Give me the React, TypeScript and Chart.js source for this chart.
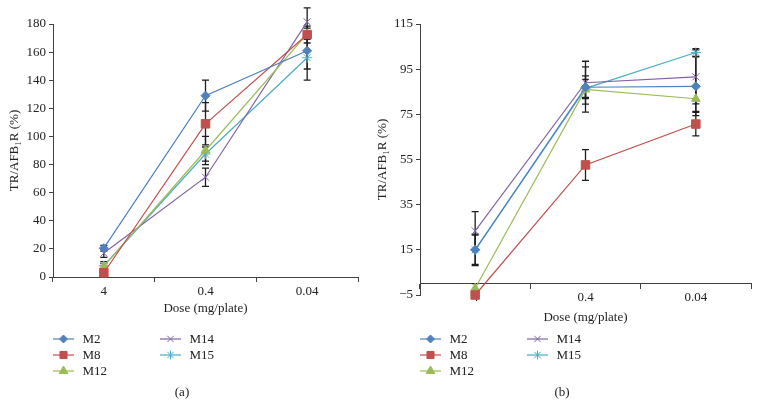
import React, { useEffect, useRef } from 'react';
import { Chart, registerables } from 'chart.js';

Chart.register(...registerables);

// ---------- data ----------
const categories = ['4', '0.4', '0.04'];
const seriesNames = ['M2', 'M8', 'M12', 'M14', 'M15'];

// panel (a)
const m2A = [20.5, 129, 161];
const m8A = [3, 109, 172.5];
const m12A = [7.5, 90, 173];
const m14A = [17, 71, 181.5];
const m15A = [8, 87.5, 156];
const m2ErrA = [2, 11, 13];
const m8ErrA = [1, 15, 6];
const m12ErrA = [2, 10, 4];
const m14ErrA = [3, 6.5, 10];
const m15ErrA = [3, 5, 16];
const yTicksA = [0, 20, 40, 60, 80, 100, 120, 140, 160, 180];

// panel (b)
const m2B = [15, 87, 87.4];
const m8B = [-5, 52.6, 70.7];
const m12B = [-2, 86, 81.9];
const m14B = [23.4, 89, 91.6];
const m15B = [15, 86.5, 102.4];
const m2ErrB = [7, 5, 13];
const m8ErrB = [1, 6.8, 5.2];
const m12ErrB = [2, 10, 5.6];
const m14ErrB = [8.5, 9.5, 12];
const m15ErrB = [6.5, 4, 1.7];
const yTicksB = [-5, 15, 35, 55, 75, 95, 115];

// ---------- styles ----------
const colors = ['#4F81BD', '#C0504D', '#9BBB59', '#8064A2', '#4BACC6'];
const pointStyles = ['rectRot', 'rect', 'triangle', 'crossRot', 'star'];
const pointRadii = [4.5, 6, 5, 5, 5];
const legendRadii = [4, 5, 5, 4.5, 4.5];
const FONT_FAMILY = '"Liberation Serif", "Times New Roman", serif';
const TEXT_COLOR = '#222';
const AXIS_COLOR = '#404040';

function drawMarker(ctx: CanvasRenderingContext2D, style: string, x: number, y: number, r: number, color: string) {
  ctx.save();
  ctx.fillStyle = color;
  ctx.strokeStyle = color;
  ctx.lineWidth = 1;
  ctx.beginPath();
  const d = r * Math.SQRT1_2;
  switch (style) {
    case 'rectRot':
      ctx.moveTo(x - r, y);
      ctx.lineTo(x, y - r);
      ctx.lineTo(x + r, y);
      ctx.lineTo(x, y + r);
      ctx.closePath();
      ctx.fill();
      ctx.stroke();
      break;
    case 'rect':
      ctx.rect(x - d, y - d, 2 * d, 2 * d);
      ctx.fill();
      ctx.stroke();
      break;
    case 'triangle':
      ctx.moveTo(x, y - r);
      ctx.lineTo(x + r * 0.866, y + r / 2);
      ctx.lineTo(x - r * 0.866, y + r / 2);
      ctx.closePath();
      ctx.fill();
      ctx.stroke();
      break;
    case 'crossRot':
      ctx.moveTo(x - d, y - d);
      ctx.lineTo(x + d, y + d);
      ctx.moveTo(x + d, y - d);
      ctx.lineTo(x - d, y + d);
      ctx.stroke();
      break;
    case 'star':
      ctx.moveTo(x - d, y - d);
      ctx.lineTo(x + d, y + d);
      ctx.moveTo(x + d, y - d);
      ctx.lineTo(x - d, y + d);
      ctx.moveTo(x, y - r);
      ctx.lineTo(x, y + r);
      ctx.stroke();
      break;
  }
  ctx.restore();
}

const errorBarsPlugin = {
  id: 'errorBars',
  beforeDatasetsDraw(chart: any) {
    const ctx = chart.ctx as CanvasRenderingContext2D;
    const yScale = chart.scales.y;
    ctx.save();
    ctx.strokeStyle = '#1e1e1e';
    ctx.lineWidth = 1.3;
    chart.data.datasets.forEach((ds: any, di: number) => {
      const meta = chart.getDatasetMeta(di);
      const errs: number[] = ds.errorBars || [];
      meta.data.forEach((pt: any, i: number) => {
        const v = ds.data[i];
        const e = errs[i];
        if (e == null) return;
        const x = pt.x;
        const yt = yScale.getPixelForValue(v + e);
        const yb = yScale.getPixelForValue(v - e);
        const cw = 3.5;
        ctx.beginPath();
        ctx.moveTo(x, yt);
        ctx.lineTo(x, yb);
        ctx.moveTo(x - cw, yt);
        ctx.lineTo(x + cw, yt);
        ctx.moveTo(x - cw, yb);
        ctx.lineTo(x + cw, yb);
        ctx.stroke();
      });
    });
    ctx.restore();
  },
};

const legendPlugin = {
  id: 'panelLegend',
  afterDraw(chart: any) {
    const opts = chart.options.plugins.panelLegend;
    if (!opts) return;
    const ctx = chart.ctx as CanvasRenderingContext2D;
    const left = chart.chartArea.left;
    const rows = [339, 355, 371];
    ctx.save();
    ctx.font = `13px ${FONT_FAMILY}`;
    ctx.textBaseline = 'middle';
    ctx.textAlign = 'left';
    chart.data.datasets.forEach((ds: any, i: number) => {
      const col = i < 3 ? 0 : 1;
      const row = i < 3 ? i : i - 3;
      const x0 = left + (col === 0 ? 0 : 107);
      const y = rows[row];
      ctx.strokeStyle = ds.borderColor;
      ctx.lineWidth = 1.2;
      ctx.beginPath();
      ctx.moveTo(x0, y);
      ctx.lineTo(x0 + 21, y);
      ctx.stroke();
      drawMarker(ctx, ds.pointStyle, x0 + 10.5, y, legendRadii[i], ds.borderColor);
      ctx.fillStyle = TEXT_COLOR;
      ctx.fillText(ds.label, x0 + 29.5, y + 1);
    });
    ctx.textAlign = 'center';
    ctx.fillText(opts.caption, opts.captionX, 393);
    ctx.restore();
  },
};

function buildDatasets(values: number[][], errors: number[][]) {
  return values.map((vals, i) => ({
    label: seriesNames[i],
    data: vals,
    errorBars: errors[i],
    borderColor: colors[i],
    backgroundColor: colors[i],
    pointBackgroundColor: colors[i],
    pointBorderColor: colors[i],
    pointStyle: pointStyles[i],
    pointRadius: pointRadii[i],
    pointBorderWidth: 1,
    borderWidth: 1.2,
    tension: 0,
    clip: false,
  }));
}

const tickFont = { family: FONT_FAMILY, size: 13 };

function makeConfig(panel: 'a' | 'b'): any {
  const isA = panel === 'a';
  const values = isA ? [m2A, m8A, m12A, m14A, m15A] : [m2B, m8B, m12B, m14B, m15B];
  const errors = isA
    ? [m2ErrA, m8ErrA, m12ErrA, m14ErrA, m15ErrA]
    : [m2ErrB, m8ErrB, m12ErrB, m14ErrB, m15ErrB];
  const yTicks = isA ? yTicksA : yTicksB;
  return {
    type: 'line',
    data: { labels: categories, datasets: buildDatasets(values, errors) },
    plugins: [errorBarsPlugin, legendPlugin],
    options: {
      animation: false,
      responsive: false,
      maintainAspectRatio: false,
      layout: {
        padding: isA
          ? { left: 0, top: 24, right: 14, bottom: 0 }
          : { left: 0, top: 24, right: 9, bottom: 112 },
      },
      plugins: {
        legend: { display: false },
        tooltip: { enabled: false },
        panelLegend: { caption: isA ? '(a)' : '(b)', captionX: isA ? 182 : 190 },
      },
      scales: {
        x: {
          type: 'category',
          position: isA ? 'bottom' : { y: 0 },
          offset: true,
          grid: {
            display: true,
            drawOnChartArea: false,
            drawTicks: true,
            tickLength: 5,
            offset: true,
            color: AXIS_COLOR,
          },
          border: { display: true, color: AXIS_COLOR, width: 1 },
          ticks: { color: TEXT_COLOR, font: tickFont, padding: isA ? 2 : 1, maxRotation: 0 },
          title: {
            display: true,
            text: 'Dose (mg/plate)',
            color: TEXT_COLOR,
            font: tickFont,
            padding: isA ? { top: 0, bottom: 91 } : { top: 0, bottom: 0 },
          },
          afterFit: (s: any) => {
            s.height = isA ? 130 : 42;
          },
        },
        y: {
          type: 'linear',
          min: yTicks[0],
          max: yTicks[yTicks.length - 1],
          afterBuildTicks: (s: any) => {
            s.ticks = yTicks.map((v) => ({ value: v }));
          },
          grid: {
            display: true,
            drawOnChartArea: false,
            drawTicks: true,
            tickLength: 4,
            color: AXIS_COLOR,
          },
          border: { display: true, color: AXIS_COLOR, width: 1 },
          ticks: {
            color: TEXT_COLOR,
            font: tickFont,
            padding: 3,
            callback: (v: any) => (Number(v) < 0 ? '\u2212' + Math.abs(Number(v)) : String(v)),
          },
          title: {
            display: true,
            text: 'TR/AFB\u2081R (%)',
            color: TEXT_COLOR,
            font: tickFont,
            padding: isA ? { top: 7, bottom: 0 } : { top: 3, bottom: 0 },
          },
          afterFit: (s: any) => {
            s.width = isA ? 53 : 48;
          },
        },
      },
    },
  };
}

function Panel({ panel, left, width }: { panel: 'a' | 'b'; left: number; width: number }) {
  const ref = useRef<HTMLCanvasElement | null>(null);
  useEffect(() => {
    if (!ref.current) return;
    const chart = new Chart(ref.current, makeConfig(panel));
    return () => chart.destroy();
  }, [panel]);
  return (
    <div style={{ position: 'absolute', left, top: 0, width, height: 407 }}>
      <canvas ref={ref} width={width} height={407} style={{ display: 'block', width, height: 407 }} />
    </div>
  );
}

export default function App() {
  return (
    <div style={{ position: 'absolute', left: 0, top: 0, width: 760, height: 407, background: '#fff' }}>
      <Panel panel="a" left={0} width={372} />
      <Panel panel="b" left={372} width={388} />
    </div>
  );
}
